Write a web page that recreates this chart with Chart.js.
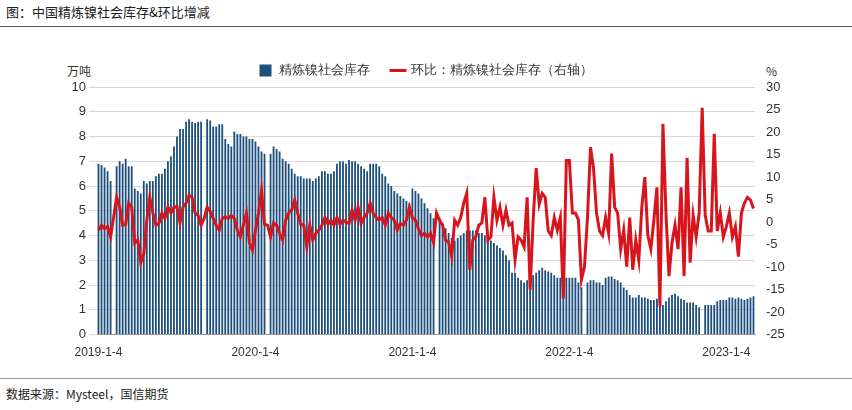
<!DOCTYPE html>
<html><head><meta charset="utf-8">
<script src="https://cdn.jsdelivr.net/npm/chart.js@4"></script>
<style>
body{margin:0;width:852px;height:410px;background:#fff;font-family:"Noto Sans CJK SC","Noto Sans",sans-serif;position:relative;overflow:hidden}
#title{position:absolute;left:6px;top:2px;font-size:13px;color:#222}
#topline{position:absolute;left:0;top:26px;width:852px;border-top:1.5px solid #555}
#botline{position:absolute;left:0;top:378px;width:852px;border-top:1px solid #999}
#src{position:absolute;left:6px;top:385px;font-size:12px;color:#222}
.unit{position:absolute;top:62px;font-size:12px;color:#333}
#wrap{position:absolute;left:52px;top:38px;width:748px;height:325px}
</style></head><body>
<div id="title">图：中国精炼镍社会库存&amp;环比增减</div>
<div id="topline"></div>
<div class="unit" style="left:67px">万吨</div>
<div class="unit" style="left:766px">%</div>
<div id="wrap"><canvas id="chart"></canvas></div>
<div id="botline"></div>
<div id="src">数据来源：Mysteel，国信期货</div>
<script>
const stock2019 = [6.9,6.85,6.75,6.6,6.2,null,6.8,7.0,6.9,7.1,6.8,6.8,5.9,5.8,5.7,6.2,6.1,6.2,6.2,6.4,6.5,6.5,6.7,7.0,7.2,7.6,8.0,8.3,8.3,8.6,8.7,8.6,8.55,8.6,8.6,null,8.7,8.65,8.4,8.4,8.5,8.5,7.9,7.7,7.6,8.2,8.1,8.1,8.0,8.0,7.9,7.9];
const stock2020 = [7.8,7.6,7.4,7.3,null,7.3,7.6,7.5,7.4,7.1,7.0,6.9,6.7,6.5,6.4,6.4,6.3,6.3,6.3,6.2,6.3,6.4,6.6,6.6,6.5,6.5,6.6,6.9,7.0,7.0,6.9,7.05,7.0,7.0,6.9,6.8,6.7,6.6,6.9,6.9,6.9,6.8,6.5,6.4,6.1,6.0,5.8,5.7,5.6,5.5,5.4,5.3];
const stock2021 = [5.9,5.8,5.7,5.5,5.3,5.1,4.9,4.7,null,4.7,4.5,4.3,4.1,3.9,3.8,3.9,4.0,4.1,4.2,4.2,4.2,4.2,4.1,4.1,4.0,3.9,3.8,3.7,3.6,3.5,3.4,3.2,3.0,2.5,2.5,2.3,2.2,2.1,2.2,2.3,2.4,2.5,2.6,2.7,2.6,2.55,2.5,2.4,2.3,2.3,2.3,2.3];
const stock2022 = [2.3,2.3,2.3,2.1,1.9,null,2.1,2.2,2.2,2.1,2.1,2.0,2.3,2.35,2.35,2.25,2.2,2.1,1.9,1.8,1.6,1.5,1.5,1.6,1.5,1.5,1.45,1.4,1.4,1.45,1.3,1.2,1.35,1.5,1.6,1.65,1.55,1.45,1.4,1.3,1.3,1.3,1.2,1.1,null,1.2,1.2,1.2,1.2,1.35,1.4,1.4];
const stock2023 = [1.4,1.5,1.5,1.45,1.5,1.45,1.4,1.45,1.5,1.55];

const chg2019 = [-1.8,-0.7,-1.5,-1.0,-3.3,1,5.5,3.3,-0.7,-0.5,4.2,3.3,-4.6,-4,-9,-7,0.4,5.5,2,-0.7,-0.3,2,0.8,3.3,2,3.3,3.5,-0.2,3.3,4.2,6,5.5,2,1.5,-0.7,0.8,3.3,2.4,0.8,-0.7,-1.8,0.8,1.2,0.8,1.5,0.8,-1.8,-3.3,-0.7,2,-4.6,-6.2];
const chg2020 = [-1.8,2,7,-0.5,-0.7,-3.3,-0.2,-0.7,-2.5,-4,0.4,2,2.7,4.9,2,-0.5,-0.7,-5.5,-0.7,-4,-2.5,-1.8,-0.7,1,-0.5,0.4,-0.7,1,-0.5,0.4,0,-0.3,2.7,0.4,3.3,-0.3,1,2,4.2,2,1,0.4,1,-0.7,2,1,0.4,-1.8,-0.3,-0.7,0.4,3.3];
const chg2021 = [1,0.4,-1.5,-3,-2.5,-3.3,-2.5,-4.6,2,0.4,-0.7,-4,-4.5,-7.7,0.4,-0.7,1,4.2,6.4,-10.6,-4,-3.3,-0.7,-0.2,5.5,-4,-3.3,5.5,0.4,3.3,-0.7,2.7,-0.7,-0.2,-8.4,-3.3,-4,-5.5,5.5,-15,0.4,12,4,6.4,5.5,-2,-3,1,-1.8,1,-17,13.7];
const chg2022 = [13.7,2,2,0.5,-12.8,-10,1,16.6,12,2,-2,-3,1,-2.5,15.2,3.3,2,-6,-1.8,-9.9,1,-10.6,-4,-8.5,3.3,10,-3,-6,0.4,7.7,-18.8,21.8,2,-12,-4.6,-0.7,-6,7.7,-12,14.3,-9,1.5,-3.3,2,25.4,1.5,-2,-2,19.6,-2,2,-3.3];
const chg2023 = [-1,2,-3.3,-1,-7.7,2,4.2,5.5,4.9,3];

const stock = [].concat(stock2019, stock2020, stock2021, stock2022, stock2023);
const change = [].concat(chg2019, chg2020, chg2021, chg2022, chg2023);

const tickIdx = [0, 52, 104, 156, 208];
const tickLabels = ["2019-1-4", "2020-1-4", "2021-1-4", "2022-1-4", "2023-1-4"];
const categories = stock.map((v, i) => "w" + i);

new Chart(document.getElementById("chart"), {
  data: {
    labels: categories,
    datasets: [
      {
        type: "bar", label: "精炼镍社会库存", data: stock, yAxisID: "y",
        backgroundColor: "#1d4f7c", categoryPercentage: 1, barPercentage: 0.6,
        pointStyle: "rect", order: 2
      },
      {
        type: "line", label: "环比：精炼镍社会库存（右轴）", data: change, yAxisID: "y1",
        borderColor: "#d8141c", backgroundColor: "#d8141c", borderWidth: 3,
        pointRadius: 0, tension: 0, pointStyle: "line", order: 1
      }
    ]
  },
  options: {
    animation: false, responsive: true, maintainAspectRatio: false,
    layout: { padding: { top: 4 } },
    plugins: {
      legend: {
        labels: {
          usePointStyle: true, boxWidth: 40, boxHeight: 12, color: "#333", font: { size: 13 },
          padding: 22, sort: (a, b) => a.datasetIndex - b.datasetIndex
        }
      },
      tooltip: { enabled: false }
    },
    scales: {
      x: {
        grid: { display: false, drawTicks: true },
        border: { color: "#999" },
        ticks: {
          autoSkip: false, maxRotation: 0, color: "#333", font: { size: 12 },
          callback: (v, i) => { const k = tickIdx.indexOf(i); return k >= 0 ? tickLabels[k] : ""; }
        }
      },
      y: {
        position: "left", min: 0, max: 10,
        afterFit: s => { s.width = 45; },
        ticks: { stepSize: 1, color: "#333", font: { size: 13 } },
        grid: { color: "#d9d9d9" }, border: { display: false }
      },
      y1: {
        position: "right", min: -25, max: 30,
        afterFit: s => { s.width = 45; },
        ticks: { stepSize: 5, color: "#333", font: { size: 13 } },
        grid: { display: false }, border: { display: false }
      }
    }
  }
});
</script>
</body></html>
